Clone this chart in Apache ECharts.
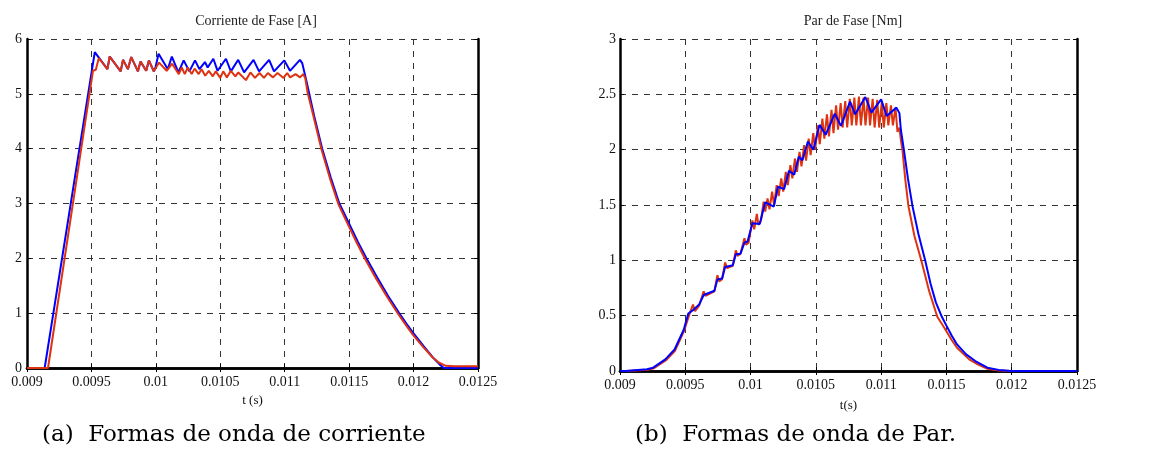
<!DOCTYPE html>
<html>
<head>
<meta charset="utf-8">
<script src="https://cdn.jsdelivr.net/npm/echarts@6/dist/echarts.min.js"></script>
<style>
  html, body { margin: 0; padding: 0; background: #fff; }
  #myChart { width: 1154px; height: 455px; }
</style>
</head>
<body>
<div id="myChart"></div>
<script>
// t (s) ticks shared by both panels
var tMin = 0.009, tMax = 0.0125, tStep = 0.0005;

// Corriente de Fase [A] -- [t, A]
var corrBlue = [
  [0.009, 0], [0.009137, 0], [0.009526, 5.76],
  [0.009624, 5.45], [0.009642, 5.68], [0.009727, 5.41], [0.009745, 5.62],
  [0.009783, 5.45], [0.009809, 5.67], [0.009861, 5.41], [0.009881, 5.59],
  [0.009925, 5.42], [0.009946, 5.61], [0.009984, 5.41], [0.009997, 5.48],
  [0.010021, 5.73], [0.010093, 5.45], [0.010124, 5.68], [0.010175, 5.39],
  [0.010216, 5.61], [0.01026, 5.41], [0.010304, 5.61], [0.010338, 5.45],
  [0.010381, 5.58], [0.010402, 5.48], [0.010446, 5.64], [0.010479, 5.42],
  [0.010544, 5.64], [0.010582, 5.41], [0.010639, 5.62], [0.010685, 5.39],
  [0.010758, 5.62], [0.010801, 5.41], [0.010879, 5.62], [0.010917, 5.41],
  [0.010997, 5.61], [0.011041, 5.42], [0.011118, 5.62], [0.011136, 5.56],
  [0.011168, 5.24], [0.011228, 4.6], [0.011291, 4.0], [0.011358, 3.47],
  [0.011424, 3.0], [0.0115, 2.63], [0.011568, 2.3], [0.011634, 2.0],
  [0.011718, 1.65], [0.0118, 1.32], [0.011888, 1.0], [0.011944, 0.81],
  [0.012, 0.63], [0.012078, 0.4], [0.012151, 0.19], [0.0122, 0.07],
  [0.012235, 0], [0.0125, 0]
];
var corrRed = [
  [0.009, 0], [0.009163, 0], [0.009512, 5.42], [0.009534, 5.44],
  [0.009557, 5.65], [0.009624, 5.45], [0.009642, 5.68], [0.009727, 5.41],
  [0.009745, 5.62], [0.009783, 5.45], [0.009809, 5.67], [0.009861, 5.41],
  [0.009881, 5.59], [0.009925, 5.42], [0.009946, 5.61], [0.009984, 5.41],
  [0.010025, 5.57], [0.010084, 5.42], [0.010126, 5.55], [0.010178, 5.36],
  [0.010201, 5.48], [0.010224, 5.36], [0.010248, 5.48], [0.010278, 5.36],
  [0.010301, 5.46], [0.010332, 5.36], [0.010355, 5.45], [0.010383, 5.33],
  [0.010411, 5.42], [0.010442, 5.32], [0.010465, 5.41], [0.0105, 5.29],
  [0.010523, 5.41], [0.010551, 5.3], [0.010582, 5.42], [0.010617, 5.32],
  [0.01064, 5.39], [0.010699, 5.25], [0.010734, 5.39], [0.010769, 5.29],
  [0.010804, 5.38], [0.010839, 5.29], [0.010869, 5.38], [0.010909, 5.3],
  [0.010944, 5.38], [0.010991, 5.29], [0.011019, 5.38], [0.011042, 5.3],
  [0.011084, 5.36], [0.011119, 5.3], [0.011143, 5.36], [0.011159, 5.29],
  [0.011178, 5.02], [0.011224, 4.58], [0.011286, 3.98], [0.011352, 3.45],
  [0.011418, 2.98], [0.011494, 2.6], [0.011562, 2.27], [0.011628, 1.97],
  [0.011712, 1.62], [0.011794, 1.3], [0.011882, 0.98], [0.011938, 0.79],
  [0.011994, 0.61], [0.012072, 0.39], [0.012145, 0.2], [0.012195, 0.1],
  [0.01225, 0.04], [0.012315, 0.03], [0.0125, 0.03]
];

// Par de Fase [Nm] -- [t, Nm]
var parBlue = [
  [0.009, 0], [0.009042, 0], [0.009207, 0.015], [0.009254, 0.03],
  [0.009347, 0.105], [0.009418, 0.194], [0.009488, 0.373], [0.009523, 0.52],
  [0.009559, 0.55], [0.009606, 0.6], [0.009641, 0.687], [0.009723, 0.725],
  [0.009746, 0.827], [0.009782, 0.836], [0.009805, 0.94], [0.009864, 0.955],
  [0.009887, 1.054], [0.009923, 1.06], [0.009953, 1.16], [0.009977, 1.17],
  [0.010014, 1.335], [0.01007, 1.329], [0.010112, 1.524], [0.010178, 1.485],
  [0.01021, 1.665], [0.010257, 1.644], [0.010294, 1.809], [0.010334, 1.773],
  [0.010369, 1.935], [0.010397, 1.905], [0.010439, 2.074], [0.010481, 2.0],
  [0.010528, 2.224], [0.010575, 2.134], [0.010645, 2.326], [0.010692, 2.215],
  [0.010762, 2.434], [0.010801, 2.32], [0.010879, 2.476], [0.010925, 2.335],
  [0.011, 2.455], [0.011042, 2.305], [0.011117, 2.38], [0.01114, 2.33],
  [0.011151, 2.18], [0.011174, 2.0], [0.011205, 1.74], [0.01124, 1.49],
  [0.011285, 1.24], [0.011337, 1.0], [0.011378, 0.79], [0.011419, 0.62],
  [0.011465, 0.49], [0.0115, 0.41], [0.01154, 0.32], [0.011581, 0.24],
  [0.011651, 0.15], [0.011721, 0.09], [0.011814, 0.03], [0.0119, 0.01],
  [0.012, 0], [0.0125, 0]
];
var parRed = [
  [0.009, 0], [0.00906, 0], [0.00921, 0.012], [0.00926, 0.025],
  [0.00935, 0.095], [0.00942, 0.18], [0.00949, 0.36], [0.009528, 0.5],
  [0.009535, 0.49], [0.009559, 0.6], [0.009575, 0.54], [0.009606, 0.59],
  [0.009641, 0.72], [0.009655, 0.68], [0.009723, 0.72], [0.009746, 0.866],
  [0.00976, 0.81], [0.009782, 0.83], [0.009805, 0.98], [0.00982, 0.93],
  [0.009864, 0.95], [0.009887, 1.09], [0.0099, 1.04], [0.009923, 1.06],
  [0.009953, 1.2], [0.009965, 1.14], [0.009985, 1.16], [0.010014, 1.36],
  [0.010028, 1.28], [0.010048, 1.42], [0.01006, 1.32], [0.01008, 1.36],
  [0.0101, 1.53], [0.010112, 1.44], [0.01013, 1.56], [0.010145, 1.46],
  [0.010165, 1.62], [0.01018, 1.5], [0.0102, 1.68], [0.010215, 1.58],
  [0.010235, 1.74], [0.01025, 1.62], [0.01027, 1.8], [0.010285, 1.68],
  [0.010305, 1.86], [0.01032, 1.74], [0.01034, 1.92], [0.010355, 1.8],
  [0.010375, 1.98], [0.01039, 1.85], [0.01041, 2.04], [0.010425, 1.9],
  [0.010445, 2.1], [0.01046, 1.95], [0.01048, 2.15], [0.010495, 2.0],
  [0.010515, 2.22], [0.01053, 2.05], [0.01055, 2.28], [0.010565, 2.1],
  [0.010585, 2.32], [0.0106, 2.12], [0.01062, 2.36], [0.010635, 2.15],
  [0.010655, 2.4], [0.01067, 2.18], [0.01069, 2.42], [0.010705, 2.2],
  [0.010725, 2.44], [0.01074, 2.2], [0.01076, 2.46], [0.010775, 2.22],
  [0.010795, 2.47], [0.01081, 2.22], [0.01083, 2.48], [0.010845, 2.22],
  [0.010865, 2.47], [0.01088, 2.22], [0.0109, 2.47], [0.010915, 2.22],
  [0.010935, 2.46], [0.01095, 2.2], [0.01097, 2.45], [0.010985, 2.2],
  [0.011005, 2.43], [0.01102, 2.2], [0.01104, 2.42], [0.011055, 2.22],
  [0.011075, 2.4], [0.01109, 2.22], [0.01111, 2.38], [0.011125, 2.16],
  [0.01114, 2.2], [0.011152, 2.08], [0.011163, 2.0], [0.011185, 1.73],
  [0.011209, 1.49], [0.011255, 1.22], [0.011307, 1.0], [0.011368, 0.72],
  [0.01143, 0.49], [0.011468, 0.42], [0.0115, 0.36], [0.01154, 0.28],
  [0.011581, 0.21], [0.011674, 0.105], [0.01174, 0.06], [0.011814, 0.02],
  [0.0119, 0.005], [0.01198, 0], [0.0125, 0]
];

var titles = ['Corriente de Fase [A]', 'Par de Fase [Nm]'];
var xNames = ['t (s)', 't(s)'];
var captions = ['(a)  Formas de onda de corriente', '(b)  Formas de onda de Par.'];

var BLUE = '#0000ff', RED = '#dd3311';
var serif = '"Liberation Serif", "DejaVu Serif", serif';
var capFont = '"DejaVu Serif", "Liberation Serif", serif';

var myChart = echarts.init(document.getElementById('myChart'));

function bottomAxis(grid, name, gap) {
  return {
    type: 'value', gridIndex: grid, position: 'bottom',
    min: tMin, max: tMax, interval: tStep,
    name: name, nameLocation: 'middle', nameGap: gap,
    nameTextStyle: { fontFamily: serif, fontSize: 13, color: '#111' },
    axisLine: { lineStyle: { color: '#000', width: 2.5 } },
    axisTick: { inside: true, length: 4, lineStyle: { color: '#000', width: 1 } },
    axisLabel: {
      fontFamily: serif, fontSize: 14, color: '#111', margin: 7,
      formatter: function (v) { return String(+v.toFixed(5)); }
    },
    splitLine: { show: true, lineStyle: { color: '#333', type: [6, 6], width: 1 } }
  };
}
function topAxis(grid) {
  return {
    type: 'value', gridIndex: grid, position: 'top',
    min: tMin, max: tMax, interval: tStep,
    axisLine: { lineStyle: { color: '#000', width: 2.5 } },
    axisTick: { inside: true, length: 4, lineStyle: { color: '#000', width: 1 } },
    axisLabel: { show: false }, splitLine: { show: false }
  };
}
function leftAxis(grid, max, step, margin) {
  return {
    type: 'value', gridIndex: grid, position: 'left',
    min: 0, max: max, interval: step,
    axisLine: { show: true, lineStyle: { color: '#000', width: 2.5 } },
    axisTick: { show: true, inside: true, length: 4, lineStyle: { color: '#000', width: 1 } },
    axisLabel: { fontFamily: serif, fontSize: 14, color: '#111', margin: margin },
    splitLine: { show: true, lineStyle: { color: '#333', type: [6, 6], width: 1 } }
  };
}
function rightAxis(grid, max, step) {
  return {
    type: 'value', gridIndex: grid, position: 'right',
    min: 0, max: max, interval: step,
    axisLine: { show: true, lineStyle: { color: '#000', width: 2.5 } },
    axisTick: { show: true, inside: true, length: 4, lineStyle: { color: '#000', width: 1 } },
    axisLabel: { show: false }, splitLine: { show: false }
  };
}
function line(data, color, xi, yi, z) {
  return {
    type: 'line', data: data, xAxisIndex: xi, yAxisIndex: yi, z: z,
    showSymbol: false, symbol: 'none', smooth: false,
    lineStyle: { color: color, width: 2 }
  };
}

var option = {
  animation: false,
  backgroundColor: '#fff',
  title: [
    { text: titles[0], left: 251, top: 9, textAlign: 'center',
      textStyle: { fontFamily: serif, fontSize: 14, fontWeight: 'normal', color: '#222' } },
    { text: titles[1], left: 848, top: 9, textAlign: 'center',
      textStyle: { fontFamily: serif, fontSize: 14, fontWeight: 'normal', color: '#222' } }
  ],
  grid: [
    { left: 27, top: 39, width: 451, height: 329 },
    { left: 620, top: 39, width: 457, height: 332 }
  ],
  xAxis: [bottomAxis(0, xNames[0], 26), topAxis(0), bottomAxis(1, xNames[1], 28), topAxis(1)],
  yAxis: [leftAxis(0, 6, 1, 5), rightAxis(0, 6, 1), leftAxis(1, 3, 0.5, 4), rightAxis(1, 3, 0.5)],
  series: [
    line(corrBlue, BLUE, 0, 0, 3),
    line(corrRed, RED, 0, 0, 4),
    line(parRed, RED, 2, 2, 3),
    line(parBlue, BLUE, 2, 2, 4)
  ],
  graphic: [
    { type: 'text', left: 42, top: 424,
      style: { text: captions[0], font: '23px ' + capFont, fill: '#000' } },
    { type: 'text', left: 635, top: 424,
      style: { text: captions[1], font: '23px ' + capFont, fill: '#000' } }
  ]
};

myChart.setOption(option);
</script>
</body>
</html>
